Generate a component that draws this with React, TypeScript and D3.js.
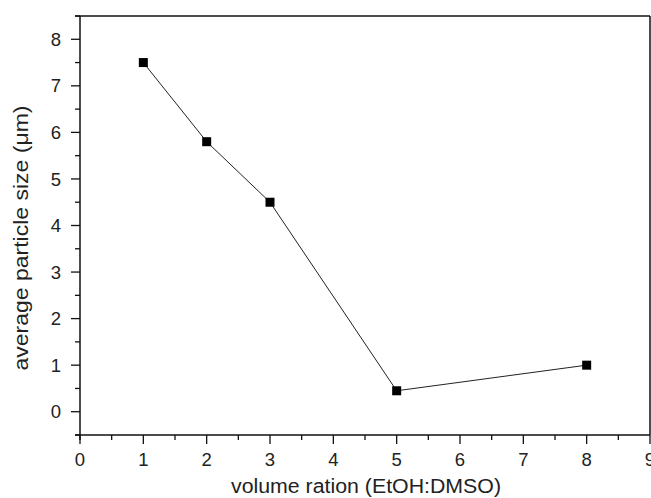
import React from "react";
import * as d3 from "d3";

const xValues = [1, 2, 3, 5, 8];
const yValues = [7.5, 5.8, 4.5, 0.45, 1.0];
const xTicks = [0, 1, 2, 3, 4, 5, 6, 7, 8, 9];
const yTicks = [0, 1, 2, 3, 4, 5, 6, 7, 8];
const xMinor = [0.5, 1.5, 2.5, 3.5, 4.5, 5.5, 6.5, 7.5, 8.5];
const yMinor = [-0.5, 0.5, 1.5, 2.5, 3.5, 4.5, 5.5, 6.5, 7.5, 8.5];

export default function App() {
  const W = 651, H = 498;
  const left = 80, right = 650, top = 16, bottom = 435;
  const x = d3.scaleLinear().domain([0, 9]).range([left, right]);
  const y = d3.scaleLinear().domain([-0.5, 8.5]).range([bottom, top]);
  const pts = xValues.map((v, i) => [v, yValues[i]] as [number, number]);
  const line = d3.line<[number, number]>().x(d => x(d[0])).y(d => y(d[1]));
  const font = "Liberation Sans, Arial, sans-serif";
  const col = "#111";
  return (
    <svg width={W} height={H} style={{ position: "absolute", left: 0, top: 0, background: "#fff" }}>
      <rect x={0} y={0} width={W} height={H} fill="#fff" />
      {/* frame */}
      <line x1={75} x2={right} y1={top} y2={top} stroke={col} strokeWidth={1.5} />
      <line x1={75} x2={right} y1={bottom} y2={bottom} stroke={col} strokeWidth={1.5} />
      <line x1={left} x2={left} y1={top} y2={bottom + 5} stroke={col} strokeWidth={1.5} />
      <line x1={right} x2={right} y1={top} y2={bottom} stroke={col} strokeWidth={1.5} />
      {/* y ticks */}
      {yTicks.map(t => (
        <g key={"y" + t}>
          <line x1={left - 9} x2={left} y1={y(t)} y2={y(t)} stroke={col} strokeWidth={1.3} />
          <text x={61} y={y(t)} dy="0.36em" textAnchor="end" fontFamily={font} fontSize={18.5} fill="#222">{t}</text>
        </g>
      ))}
      {yMinor.map(t => (
        <line key={"ym" + t} x1={left - 5} x2={left} y1={y(t)} y2={y(t)} stroke={col} strokeWidth={1.3} />
      ))}
      {/* x ticks */}
      {xTicks.map(t => (
        <g key={"x" + t}>
          <line x1={x(t)} x2={x(t)} y1={bottom} y2={bottom + 9} stroke={col} strokeWidth={1.3} />
          <text x={x(t)} y={466} textAnchor="middle" fontFamily={font} fontSize={18.5} fill="#222">{t}</text>
        </g>
      ))}
      {xMinor.map(t => (
        <line key={"xm" + t} x1={x(t)} x2={x(t)} y1={bottom} y2={bottom + 5} stroke={col} strokeWidth={1.3} />
      ))}
      {/* titles */}
      <text x={366} y={493} textAnchor="middle" fontFamily={font} fontSize={19.5} fill="#222"
        textLength={270} lengthAdjust="spacingAndGlyphs">volume ration (EtOH:DMSO)</text>
      <text transform={`translate(28, 238) rotate(-90)`} textAnchor="middle" fontFamily={font} fontSize={19.5} fill="#222"
        textLength={265} lengthAdjust="spacingAndGlyphs">average particle size (μm)</text>
      {/* data */}
      <path d={line(pts) || ""} fill="none" stroke="#222" strokeWidth={1} />
      {pts.map((p, i) => (
        <rect key={i} x={x(p[0]) - 4.5} y={y(p[1]) - 4.5} width={9} height={9} fill="#000" />
      ))}
    </svg>
  );
}
